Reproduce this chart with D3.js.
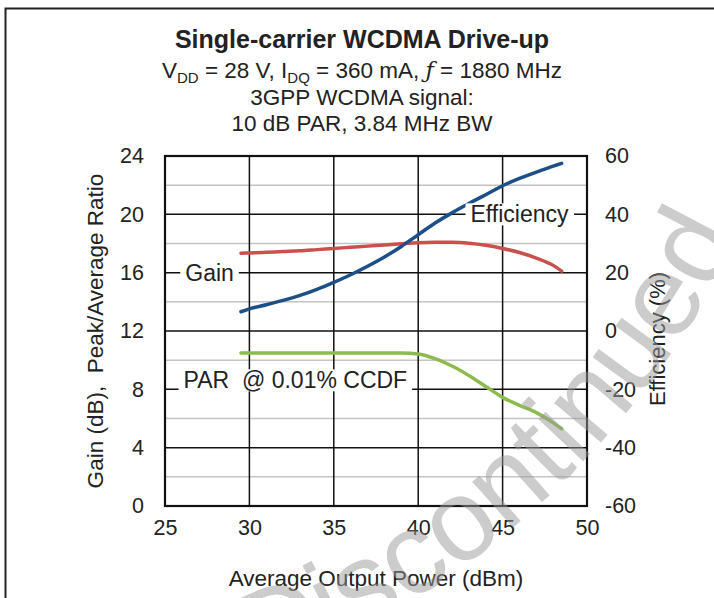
<!DOCTYPE html>
<html>
<head>
<meta charset="utf-8">
<script src="https://cdn.jsdelivr.net/npm/d3@7"></script>
<style>
  body { margin: 0; background: #fff; }
  svg { display: block; font-family: 'Liberation Sans', Arial, sans-serif; }
</style>
</head>
<body>
<div id="chart"></div>
<script>
// Average output power (dBm) sample points
const power = [29.5, 30, 31, 32, 33, 34, 35, 36, 37, 38, 39, 40, 41, 42, 43, 44, 45, 46, 47, 48, 48.5];
// Gain (dB), left axis
const gain = [17.33, 17.35, 17.4, 17.45, 17.5, 17.58, 17.66, 17.74, 17.82, 17.9, 17.98, 18.05, 18.08, 18.08, 18.02, 17.88, 17.66, 17.38, 17.0, 16.5, 16.1];
// Peak/average ratio @ 0.01% CCDF (dB), left axis
const par = [10.5, 10.5, 10.5, 10.5, 10.5, 10.5, 10.5, 10.5, 10.5, 10.5, 10.5, 10.42, 10.1, 9.6, 8.95, 8.2, 7.45, 6.9, 6.4, 5.7, 5.3];
// Drain efficiency (%), right axis
const efficiency = [6.6, 7.6, 9.0, 10.5, 12.2, 14.3, 16.7, 19.3, 22.2, 25.4, 29.0, 33.0, 37.0, 40.5, 43.7, 46.7, 49.8, 52.3, 54.5, 56.5, 57.5];

const xTicks = [25, 30, 35, 40, 45, 50];
const leftTicks = [0, 4, 8, 12, 16, 20, 24];
const rightTicks = [-60, -40, -20, 0, 20, 40, 60];
const minorTicks = [2, 6, 10, 14, 18, 22];

const width = 714, height = 598;
const margin = {left: 165, right: 127, top: 156, bottom: 92};
const plot_width = width - margin.left - margin.right;
const plot_height = height - margin.top - margin.bottom;

const svg = d3.select('#chart').append('svg')
    .attr('width', width)
    .attr('height', height);

// outer frame (top + left edges)
svg.append('path')
    .attr('d', `M5.5,${height} V8.5 H${width}`)
    .attr('fill', 'none')
    .attr('stroke', '#222')
    .attr('stroke-width', 2);

const g = svg.append('g')
    .attr('transform', `translate(${margin.left},${margin.top})`);

const x = d3.scaleLinear().domain([25, 50]).range([0, plot_width]);
const yL = d3.scaleLinear().domain([0, 24]).range([plot_height, 0]);
const yR = d3.scaleLinear().domain([-60, 60]).range([plot_height, 0]);

// grid
g.append('g').selectAll('line')
    .data(minorTicks)
    .join('line')
    .attr('x1', 0).attr('x2', plot_width)
    .attr('y1', d => yL(d)).attr('y2', d => yL(d))
    .attr('stroke', '#c4c4c4').attr('stroke-width', 1.5);

g.append('g').selectAll('line')
    .data(leftTicks.slice(1, -1))
    .join('line')
    .attr('x1', 0).attr('x2', plot_width)
    .attr('y1', d => yL(d)).attr('y2', d => yL(d))
    .attr('stroke', '#111').attr('stroke-width', 1.5);

g.append('g').selectAll('line')
    .data(xTicks.slice(1, -1))
    .join('line')
    .attr('x1', d => x(d)).attr('x2', d => x(d))
    .attr('y1', 0).attr('y2', plot_height)
    .attr('stroke', '#111').attr('stroke-width', 1.5);

g.append('rect')
    .attr('width', plot_width).attr('height', plot_height)
    .attr('fill', 'none').attr('stroke', '#111').attr('stroke-width', 2.2);

// axes: labels only (plain hyphen for negatives)
const plain = d => String(d);
const xAxis = d3.axisBottom(x).tickValues(xTicks).tickFormat(plain).tickSize(0).tickPadding(14);
const leftAxis = d3.axisLeft(yL).tickValues(leftTicks).tickFormat(plain).tickSize(0).tickPadding(21);
const rightAxis = d3.axisRight(yR).tickValues(rightTicks).tickFormat(plain).tickSize(0).tickPadding(18);

function styleAxis(sel) {
    sel.select('.domain').remove();
    sel.selectAll('text')
        .style('font-family', "'Liberation Sans', Arial, sans-serif")
        .style('font-size', '21.5px')
        .style('fill', '#222');
}

g.append('g').attr('transform', `translate(0,${plot_height})`).call(xAxis).call(styleAxis);
g.append('g').call(leftAxis).call(styleAxis);
g.append('g').attr('transform', `translate(${plot_width},0)`).call(rightAxis).call(styleAxis);

// series
const rows = power.map((p, i) => ({p, gain: gain[i], par: par[i], eff: efficiency[i]}));

const lineOf = (acc, scale) => d3.line()
    .x(d => x(d.p))
    .y(d => scale(acc(d)))
    .curve(d3.curveMonotoneX);

const series = [
    {path: lineOf(d => d.gain, yL), color: '#c9504d'},
    {path: lineOf(d => d.par, yL), color: '#8dbb4f'},
    {path: lineOf(d => d.eff, yR), color: '#1c4f88'}
];

series.forEach(s => {
    g.append('path')
        .datum(rows)
        .attr('d', s.path)
        .attr('fill', 'none')
        .attr('stroke', s.color)
        .attr('stroke-width', 3.5)
        .attr('stroke-linecap', 'round');
});

// in-plot labels with white knockout
function label(txt, px, py) {
    const t = g.append('text')
        .attr('x', px).attr('y', py)
        .style('font-size', '23px')
        .style('white-space', 'pre')
        .style('fill', '#222')
        .text(txt);
    const b = t.node().getBBox();
    g.insert('rect', () => t.node())
        .attr('x', b.x - 5).attr('y', b.y + 2)
        .attr('width', b.width + 10).attr('height', b.height - 4)
        .attr('fill', '#fff');
}
label('Gain', x(26.2), yL(16) + 8);
label('Efficiency', x(43.1), yR(40) + 8);
label('PAR  @ 0.01% CCDF', x(26.1), yL(8) - 1);

// titles
const cx = 362;
svg.append('text')
    .attr('x', cx).attr('y', 48)
    .attr('text-anchor', 'middle')
    .style('font-size', '25px').style('font-weight', 'bold').style('fill', '#222')
    .text('Single-carrier WCDMA Drive-up');

const sub = svg.append('text')
    .attr('x', cx).attr('y', 78)
    .attr('text-anchor', 'middle')
    .style('font-size', '22.5px').style('fill', '#222');
sub.append('tspan').text('V');
sub.append('tspan').attr('dy', 5).style('font-size', '15px').text('DD');
sub.append('tspan').attr('dy', -5).text(' = 28 V, I');
sub.append('tspan').attr('dy', 5).style('font-size', '15px').text('DQ');
sub.append('tspan').attr('dy', -5).text(' = 360 mA, ');
sub.append('tspan').style('font-style', 'italic').style('font-family', "'DejaVu Serif', serif").text('ƒ');
sub.append('tspan').text(' = 1880 MHz');

svg.append('text')
    .attr('x', cx).attr('y', 105)
    .attr('text-anchor', 'middle')
    .style('font-size', '22.5px').style('fill', '#222')
    .text('3GPP WCDMA signal:');

svg.append('text')
    .attr('x', cx).attr('y', 131)
    .attr('text-anchor', 'middle')
    .style('font-size', '22.5px').style('fill', '#222')
    .text('10 dB PAR, 3.84 MHz BW');

// axis titles
svg.append('text')
    .attr('transform', `translate(${margin.left + plot_width / 2},586)`)
    .attr('text-anchor', 'middle')
    .style('font-size', '22.5px').style('fill', '#222')
    .text('Average Output Power (dBm)');

svg.append('text')
    .attr('transform', `translate(103,${margin.top + plot_height / 2})rotate(-90)`)
    .attr('text-anchor', 'middle')
    .style('font-size', '22.5px').style('fill', '#222').style('white-space', 'pre')
    .text('Gain (dB),  Peak/Average Ratio');

svg.append('text')
    .attr('transform', `translate(665,${margin.top + plot_height / 2 + 8})rotate(-90)`)
    .attr('text-anchor', 'middle')
    .style('font-size', '22px').style('fill', '#222')
    .text('Efficiency (%)');

// watermark along an arc
svg.append('defs').append('path')
    .attr('id', 'wm-arc')
    .attr('d', 'M248,680 A875,875 0 0 0 812,9');
svg.append('text')
    .style('font-size', '116px')
    .style('fill', '#999').style('fill-opacity', 0.5)
    .append('textPath')
    .attr('href', '#wm-arc')
    .attr('startOffset', 9)
    .text('Discontinued');
</script>
</body>
</html>
